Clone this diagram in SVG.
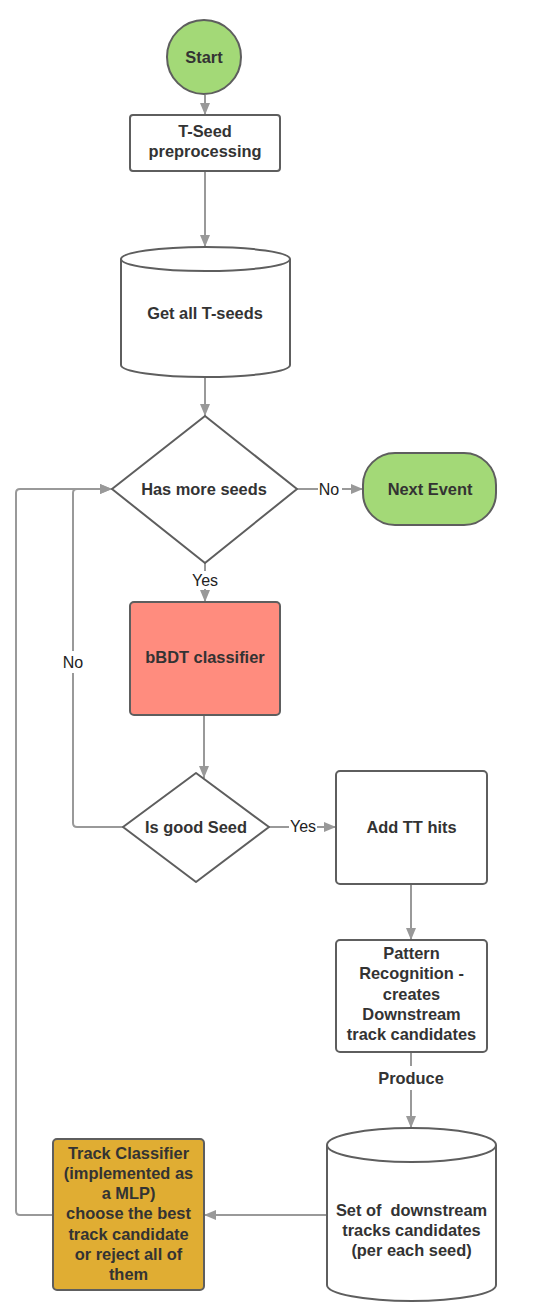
<svg xmlns="http://www.w3.org/2000/svg" width="539" height="1305" viewBox="0 0 539 1305">
<defs>
<marker id="arr" markerWidth="12" markerHeight="10" refX="12" refY="5" orient="auto" markerUnits="userSpaceOnUse">
<path d="M0,0 L12,5 L0,10 z" fill="#999"/>
</marker>
<style>
.sh{stroke:#5e5e5e;stroke-width:2;}
.wh{fill:#fff;}
.t{font-family:"Liberation Sans",Arial,sans-serif;font-weight:bold;font-size:16.4px;fill:#333;text-anchor:middle;}
.c{fill:none;stroke:#999;stroke-width:2;}
.lbl{font-family:"Liberation Sans",Arial,sans-serif;font-size:16px;fill:#222;text-anchor:middle;}
.lblb{font-family:"Liberation Sans",Arial,sans-serif;font-weight:bold;font-size:16.4px;fill:#333;text-anchor:middle;}
</style>
</defs>
<rect width="539" height="1305" fill="#fff"/>

<g id="connectors">
<path class="c" d="M205,95 L205,115" marker-end="url(#arr)"/>
<path class="c" d="M205,171 L205,247" marker-end="url(#arr)"/>
<path class="c" d="M205,377 L205,416" marker-end="url(#arr)"/>
<path class="c" d="M297,489 L363,489" marker-end="url(#arr)"/>
<path class="c" d="M205,563 L205,602" marker-end="url(#arr)"/>
<path class="c" d="M204,715 L204,778" marker-end="url(#arr)"/>
<path class="c" d="M269,827 L336,827" marker-end="url(#arr)"/>
<path class="c" d="M123,827 L77,827 Q73,827 73,823 L73,493 Q73,489 77,489 L112,489" marker-end="url(#arr)"/>
<path class="c" d="M411,884 L411,940" marker-end="url(#arr)"/>
<path class="c" d="M411,1052 L411,1128" marker-end="url(#arr)"/>
<path class="c" d="M327,1215 L204,1215" marker-end="url(#arr)"/>
<path class="c" d="M53,1215 L20,1215 Q16,1215 16,1211 L16,493 Q16,489 20,489 L112,489" marker-end="url(#arr)"/>
<rect x="318" y="479" width="24" height="20" fill="#fff"/>
<text class="lbl" x="329" y="494.5">No</text>
<rect x="189" y="571" width="32" height="18" fill="#fff"/>
<text class="lbl" x="205" y="586">Yes</text>
<rect x="62" y="651" width="22" height="22" fill="#fff"/>
<text class="lbl" x="73" y="668">No</text>
<rect x="289" y="817" width="28" height="20" fill="#fff"/>
<text class="lbl" x="303" y="832">Yes</text>
<rect x="373" y="1066" width="76" height="24" fill="#fff"/>
<text class="lblb" x="411" y="1084">Produce</text>
</g>

<g id="start">
<circle class="sh" cx="204" cy="57" r="37" fill="#a3d977"/>
<text class="t" x="204" y="62.5">Start</text>
</g>

<g id="tseed">
<rect class="sh wh" x="130" y="115" width="150" height="56" rx="3"/>
<text class="t" x="205" y="136.5">T-Seed</text>
<text class="t" x="205" y="156.5">preprocessing</text>
</g>

<g id="getseeds">
<path class="sh wh" d="M121,259 A84.5,12 0 0 1 290,259 L290,365 A84.5,12 0 0 1 121,365 Z"/>
<path class="sh" fill="none" d="M121,259 A84.5,12 0 0 0 290,259"/>
<text class="t" x="205" y="318.5">Get all T-seeds</text>
</g>

<g id="hasmore">
<path class="sh wh" d="M205,416 L297,489 L205,563 L112,489 Z" stroke-linejoin="round"/>
<text class="t" x="204" y="494.5">Has more seeds</text>
</g>

<g id="nextevent">
<rect class="sh" x="363" y="453" width="133" height="72" rx="32" fill="#a3d977"/>
<text class="t" x="430" y="494.5">Next Event</text>
</g>

<g id="bbdt">
<rect class="sh" x="130" y="602" width="150" height="113" rx="4" fill="#ff8c7e"/>
<text class="t" x="205" y="662.5">bBDT classifier</text>
</g>

<g id="isgood">
<path class="sh wh" d="M196,773 L269,827 L196,882 L123,827 Z" stroke-linejoin="round"/>
<text class="t" x="196" y="832.5">Is good Seed</text>
</g>

<g id="addtt">
<rect class="sh wh" x="336" y="771" width="151" height="113" rx="4"/>
<text class="t" x="411.5" y="832.5">Add TT hits</text>
</g>

<g id="pattern">
<rect class="sh wh" x="336" y="940" width="151" height="112" rx="4"/>
<text class="t" x="411.5" y="958.5">Pattern</text>
<text class="t" x="411.5" y="979">Recognition -</text>
<text class="t" x="411.5" y="999.5">creates</text>
<text class="t" x="411.5" y="1019.5">Downstream</text>
<text class="t" x="411.5" y="1039.5">track candidates</text>
</g>

<g id="tracks">
<path class="sh wh" d="M327,1145 A84.5,17 0 0 1 496,1145 L496,1285 A84.5,16 0 0 1 327,1285 Z"/>
<path class="sh" fill="none" d="M327,1145 A84.5,17 0 0 0 496,1145"/>
<text class="t" x="411.5" y="1215.5" xml:space="preserve">Set of  downstream</text>
<text class="t" x="411.5" y="1235.5">tracks candidates</text>
<text class="t" x="411.5" y="1256">(per each seed)</text>
</g>

<g id="trackclassifier">
<rect class="sh" x="53" y="1139" width="151" height="151" rx="4" fill="#e0ad33"/>
<text class="t" x="128.5" y="1158.5">Track Classifier</text>
<text class="t" x="128.5" y="1178.5">(implemented as</text>
<text class="t" x="128.5" y="1199">a MLP)</text>
<text class="t" x="128.5" y="1219">choose the best</text>
<text class="t" x="128.5" y="1239.5">track candidate</text>
<text class="t" x="128.5" y="1259.5">or reject all of</text>
<text class="t" x="128.5" y="1280">them</text>
</g>
</svg>
